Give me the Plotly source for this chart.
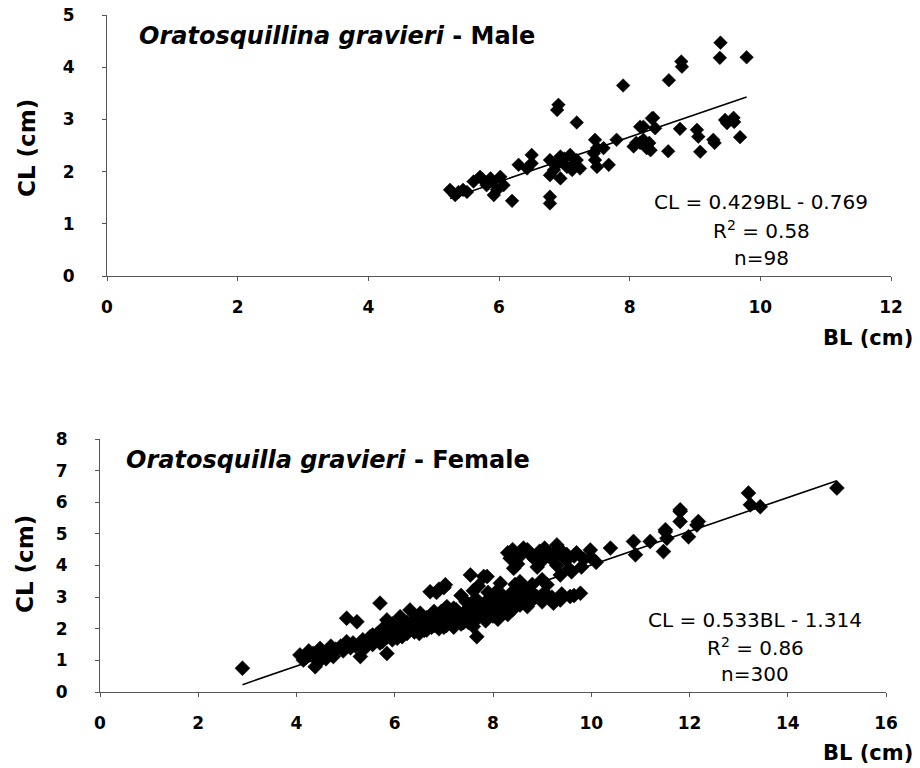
import numpy as np
import plotly.graph_objects as go

# ---------------- data: male ----------------
male_bl = [9.39, 9.38, 9.79, 8.79, 8.80, 8.60, 7.90, 8.36, 8.21, 8.39, 8.77, 9.03, 9.05, 9.28, 9.30,
           9.46, 9.59, 9.49, 9.69, 8.59, 9.08, 8.26, 8.16, 8.32, 6.91, 6.89, 7.19, 8.34, 8.16, 8.21,
           8.06, 8.26, 7.80, 7.47, 7.60, 7.45, 7.47, 7.68, 7.50, 6.78, 6.94, 7.09, 7.19, 7.24, 7.04,
           6.84, 6.78, 6.94, 7.12, 6.50, 6.50, 6.30, 6.43, 5.71, 5.87, 6.02, 5.61, 5.81, 5.97, 5.92,
           6.07, 5.25, 5.38, 5.51, 5.33, 6.20, 6.78, 6.78, 5.45, 5.75, 5.90, 6.90, 7.00, 7.15, 8.10,
           8.30, 9.60, 7.50]
male_cl = [4.47, 4.18, 4.19, 4.11, 4.01, 3.75, 3.65, 3.03, 2.86, 2.83, 2.82, 2.80, 2.67, 2.61, 2.55,
           2.99, 3.03, 2.93, 2.66, 2.39, 2.38, 2.48, 2.55, 2.41, 3.28, 3.18, 2.94, 3.02, 2.86, 2.61,
           2.48, 2.45, 2.61, 2.61, 2.45, 2.35, 2.22, 2.13, 2.09, 2.22, 2.29, 2.32, 2.22, 2.06, 2.09,
           2.03, 1.93, 1.87, 2.03, 2.32, 2.16, 2.13, 2.06, 1.90, 1.87, 1.90, 1.81, 1.74, 1.65, 1.55,
           1.74, 1.65, 1.61, 1.61, 1.55, 1.44, 1.52, 1.39, 1.65, 1.85, 1.80, 2.15, 2.25, 2.15, 2.55,
           2.55, 2.95, 2.45]
male_slope, male_intercept = 0.429, -0.769
male_eq = ["CL = 0.429BL - 0.769", "R<sup>2</sup> = 0.58", "n=98"]

# ---------------- data: female ----------------
female_bl = [2.90, 4.07, 4.14, 4.20, 4.34, 4.38, 4.48, 4.45, 4.60, 4.75, 4.80, 4.90, 5.02, 5.10, 5.15,
             5.02, 5.23, 5.30, 5.30, 5.35, 5.40, 5.45, 5.50, 5.55, 5.60, 5.65, 5.70, 5.70, 5.75, 5.80,
             5.84, 5.84, 5.85, 5.90, 5.95, 6.00, 6.00, 6.05, 6.11, 6.10, 6.15, 6.20, 6.20, 6.25, 6.31,
             6.30, 6.35, 6.40, 6.45, 6.50, 6.52, 6.55, 6.60, 6.60, 6.65, 6.70, 6.72, 6.75, 6.80, 6.80,
             6.85, 6.90, 6.90, 6.95, 7.00, 7.03, 7.06, 7.05, 7.10, 7.15, 7.20, 7.20, 7.25, 7.30, 7.35,
             7.40, 7.45, 7.50, 7.50, 7.54, 7.55, 7.60, 7.60, 7.65, 7.67, 7.70, 7.75, 7.81, 7.80, 7.85,
             7.88, 7.90, 7.95, 8.00, 8.00, 8.05, 8.08, 8.10, 8.15, 8.15, 8.20, 8.25, 8.30, 8.35, 8.35,
             8.40, 8.42, 8.45, 8.50, 8.55, 8.55, 8.62, 8.62, 8.65, 8.70, 8.76, 8.80, 8.85, 8.89, 8.95,
             9.00, 9.00, 9.10, 9.10, 9.15, 9.23, 9.30, 9.30, 9.37, 9.37, 9.45, 9.50, 9.57, 9.60, 9.70,
             9.78, 9.80, 9.98, 10.10, 10.39, 10.86, 10.90, 11.20, 11.47, 11.51, 11.51, 11.54, 11.81, 11.81, 11.81,
             11.98, 12.15, 12.18, 13.20, 13.24, 13.44, 15.00,
             8.30, 8.50, 8.70, 8.90, 9.05, 9.20, 9.40, 9.55, 9.65, 9.85, 10.00,
             7.35, 7.45, 7.60, 7.70, 7.90,
             5.20, 5.55, 5.75, 5.95, 6.05, 6.25, 6.40, 6.50, 6.65, 6.75, 6.95, 7.00, 7.10, 7.20, 7.30,
             7.40, 7.55, 7.65, 7.75, 7.85, 7.90, 8.05, 8.10, 8.20, 8.30, 8.45, 8.60, 8.75, 8.80, 9.05,
             9.20, 9.40, 9.65, 8.40, 8.55, 9.00, 9.25, 9.50, 6.85, 6.90, 7.00, 4.25, 4.55, 4.70, 4.95,
             5.05]
female_cl = [0.75, 1.17, 1.01, 1.10, 1.22, 0.80, 1.38, 0.95, 1.05, 1.12, 1.35, 1.45, 1.59, 1.40, 1.55,
             2.33, 2.22, 1.12, 1.50, 1.65, 1.40, 1.60, 1.75, 1.50, 1.70, 1.85, 2.81, 1.55, 1.60, 1.90,
             1.22, 2.28, 1.75, 1.95, 1.65, 2.00, 1.80, 1.90, 2.38, 2.05, 1.75, 2.10, 1.95, 1.85, 2.59,
             2.15, 2.00, 1.90, 2.20, 2.05, 2.49, 2.30, 2.15, 1.95, 1.96, 2.25, 3.17, 2.40, 2.10, 2.55,
             2.30, 2.00, 2.45, 2.20, 2.35, 3.39, 2.70, 2.10, 2.50, 2.25, 2.40, 2.05, 2.60, 2.30, 2.15,
             2.50, 2.35, 2.65, 2.20, 3.70, 2.45, 2.07, 2.80, 2.55, 1.75, 2.35, 2.70, 3.65, 2.50, 2.25,
             3.65, 2.60, 2.85, 2.40, 3.00, 2.65, 2.91, 2.50, 3.44, 2.75, 2.55, 2.90, 2.70, 4.23, 3.10,
             2.60, 3.91, 2.85, 3.20, 3.49, 2.75, 4.55, 2.91, 3.30, 2.70, 4.34, 3.40, 4.20, 3.02, 4.45,
             2.85, 3.55, 4.34, 3.39, 2.95, 2.81, 4.65, 4.00, 3.70, 2.91, 4.25, 4.18, 3.02, 3.80, 4.40,
             3.12, 3.95, 4.49, 4.10, 4.55, 4.76, 4.34, 4.76, 4.44, 5.07, 5.13, 4.86, 5.76, 5.71, 5.39,
             4.91, 5.28, 5.39, 6.29, 5.92, 5.86, 6.45,
             4.40, 4.05, 4.50, 3.95, 4.55, 4.20, 4.45, 3.90, 4.30, 4.20, 4.25,
             3.05, 2.85, 3.20, 3.35, 3.15,
             1.45, 1.80, 2.00, 2.15, 1.70, 2.20, 2.30, 1.85, 2.35, 2.05, 2.55, 2.05, 2.30, 2.65, 2.45,
             2.20, 2.30, 2.95, 2.45, 2.85, 2.35, 3.15, 2.30, 3.05, 2.45, 3.40, 3.05, 3.20, 2.90, 3.15,
             3.00, 3.10, 3.05, 4.50, 4.30, 4.15, 4.40, 4.35, 3.15, 3.25, 3.30, 1.30, 1.25, 1.45, 1.30,
             1.50]
female_slope, female_intercept = 0.533, -1.314
female_eq = ["CL = 0.533BL - 1.314", "R<sup>2</sup> = 0.86", "n=300"]

male_xticks = [0, 2, 4, 6, 8, 10, 12]
male_yticks = [0, 1, 2, 3, 4, 5]
female_xticks = [0, 2, 4, 6, 8, 10, 12, 14, 16]
female_yticks = [0, 1, 2, 3, 4, 5, 6, 7, 8]

W, H = 920, 768
WIDE = "DejaVu Sans"


def px(x):
    return x / W


def py(y):
    return 1 - y / H


fig = go.Figure()

fig.add_trace(go.Scatter(x=male_bl, y=male_cl, mode="markers",
                         marker=dict(symbol="diamond", size=10.5, color="black",
                                     line=dict(width=0.5, color="black")),
                         xaxis="x", yaxis="y", showlegend=False))
mx = np.array([min(male_bl), max(male_bl)])
fig.add_trace(go.Scatter(x=mx, y=male_slope * mx + male_intercept, mode="lines",
                         line=dict(color="black", width=1.6), xaxis="x", yaxis="y", showlegend=False))

fig.add_trace(go.Scatter(x=female_bl, y=female_cl, mode="markers",
                         marker=dict(symbol="diamond", size=11.5, color="black",
                                     line=dict(width=0.5, color="black")),
                         xaxis="x2", yaxis="y2", showlegend=False))
fx = np.array([min(female_bl), max(female_bl)])
fig.add_trace(go.Scatter(x=fx, y=female_slope * fx + female_intercept, mode="lines",
                         line=dict(color="black", width=1.6), xaxis="x2", yaxis="y2", showlegend=False))

tickfont = dict(family=WIDE, size=17, color="black", weight="bold")
axis_common = dict(showgrid=False, zeroline=False, showline=True, linecolor="#555555", linewidth=1,
                   ticks="outside", ticklen=4, tickcolor="#555555", tickfont=tickfont,
                   automargin=False, fixedrange=True)

fig.update_layout(
    template="none",
    width=W, height=H,
    margin=dict(l=0, r=0, t=0, b=0, pad=0, autoexpand=False),
    paper_bgcolor="white", plot_bgcolor="white",
    showlegend=False,
    xaxis=dict(domain=[px(107), px(891)], range=[0, 12], tickvals=male_xticks,
               anchor="y", ticklabelstandoff=12, **axis_common),
    yaxis=dict(domain=[py(276), py(15)], range=[0, 5], tickvals=male_yticks,
               anchor="x", ticklabelstandoff=24, **axis_common),
    xaxis2=dict(domain=[px(100), px(886)], range=[0, 16], tickvals=female_xticks,
                anchor="y2", ticklabelstandoff=12, **axis_common),
    yaxis2=dict(domain=[py(692), py(439)], range=[0, 8], tickvals=female_yticks,
                anchor="x2", ticklabelstandoff=24, **axis_common),
)

ann = []
title_font = dict(family=WIDE, size=24, color="black", weight="bold")
ann.append(dict(text="<i>Oratosquillina gravieri</i> - Male", x=px(137), y=py(36),
                xanchor="left", yanchor="middle", font=title_font))
ann.append(dict(text="<i>Oratosquilla gravieri</i> - Female", x=px(124), y=py(460),
                xanchor="left", yanchor="middle", font=title_font))

axis_title_font = dict(family=WIDE, size=23, color="black", weight="bold")
ann.append(dict(text="CL (cm)", x=px(27), y=py(148), textangle=-90,
                xanchor="center", yanchor="middle", font=axis_title_font))
ann.append(dict(text="CL (cm)", x=px(25), y=py(564), textangle=-90,
                xanchor="center", yanchor="middle", font=axis_title_font))
bl_font = dict(family=WIDE, size=21, color="black", weight="bold")
ann.append(dict(text="BL (cm)", x=px(915), y=py(338), xanchor="right", yanchor="middle",
                font=bl_font))
ann.append(dict(text="BL (cm)", x=px(915), y=py(753), xanchor="right", yanchor="middle",
                font=bl_font))

eq_font = dict(family=WIDE, size=20, color="black")
for t, yy in zip(male_eq, [202, 230, 258]):
    ann.append(dict(text=t, x=px(761), y=py(yy), xanchor="center", yanchor="middle", font=eq_font))
for t, yy in zip(female_eq, [620, 647, 674]):
    ann.append(dict(text=t, x=px(755), y=py(yy), xanchor="center", yanchor="middle", font=eq_font))

for a in ann:
    a.update(xref="paper", yref="paper", showarrow=False)
fig.update_layout(annotations=ann)

fig.write_html("out.html", config={"displayModeBar": False},
               post_script="document.body.style.margin='0';document.body.style.overflow='hidden';")
